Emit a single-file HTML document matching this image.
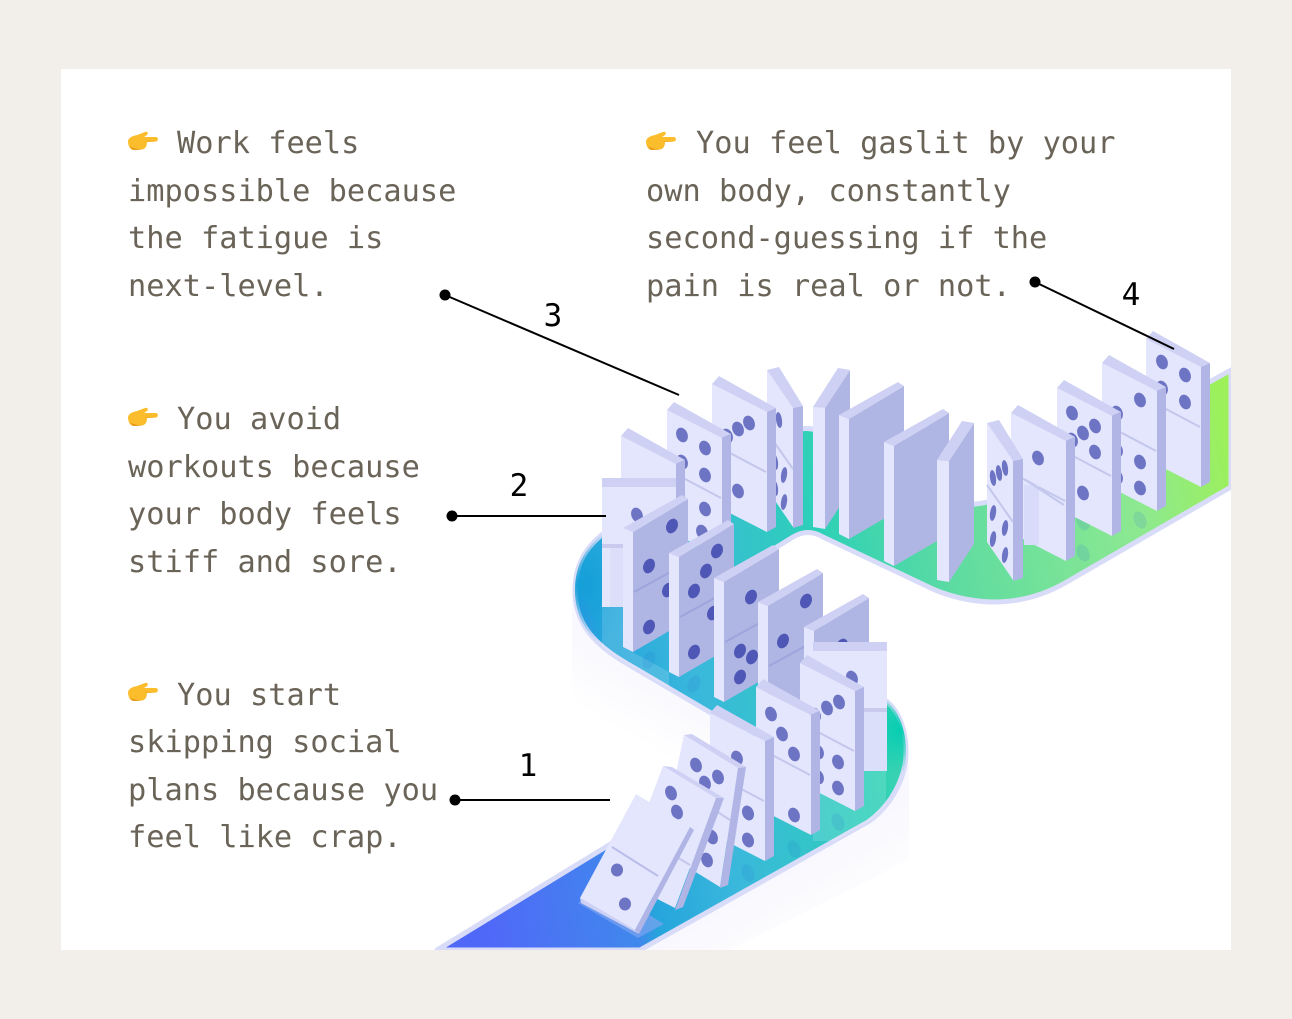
<!DOCTYPE html>
<html><head><meta charset="utf-8"><style>
html,body{margin:0;padding:0;background:#f2efea}
svg{display:block}
text{font-family:"DejaVu Sans Mono","Liberation Mono",monospace}
.t{font-size:30.3px;fill:#6a6358}
.n{font-size:31px;fill:#000;text-anchor:middle}
</style></head><body>
<svg width="1292" height="1019" viewBox="0 0 1292 1019" xmlns="http://www.w3.org/2000/svg">
<defs>
<clipPath id="card"><rect x="61" y="69" width="1170" height="881"/></clipPath>
<path id="trk" d="M437,950 L745,762 Q768,750 745,733 L626,663 C590,642 575,620 575,590 C575,560 590,540 620,522 L790,432 Q808,424 826,434 L925,490 C960,512 990,508 1030,482 L1231,370 L1231,487 L1065,583 C1030,603 985,610 935,590 L823,537 Q808,528 793,537 L700,595 L885,700 C905,715 908,745 905,765 C900,790 885,810 868,822 L640,950 Z"/>
<clipPath id="tc"><use href="#trk"/></clipPath>
<linearGradient id="tr" gradientUnits="userSpaceOnUse" x1="500" y1="1000" x2="1308" y2="838">
<stop offset="0" stop-color="#5068f8"/><stop offset=".18" stop-color="#4088ec"/><stop offset=".205" stop-color="#25a5dc"/><stop offset=".31" stop-color="#3ab8dc"/><stop offset=".49" stop-color="#2dd0b8"/><stop offset=".65" stop-color="#60dca0"/><stop offset=".88" stop-color="#8ee990"/><stop offset="1" stop-color="#9cf05a"/>
</linearGradient>
<linearGradient id="sh1" gradientUnits="userSpaceOnUse" x1="625" y1="650" x2="588" y2="714"><stop offset="0" stop-color="#f8f8fe"/><stop offset="1" stop-color="#fff"/></linearGradient>
<linearGradient id="sh2" gradientUnits="userSpaceOnUse" x1="860" y1="825" x2="900" y2="892"><stop offset="0" stop-color="#f8f8fe"/><stop offset="1" stop-color="#fff"/></linearGradient>
<radialGradient id="rg1"><stop offset="0" stop-color="#06cdb2"/><stop offset="1" stop-color="#06cdb2" stop-opacity="0"/></radialGradient>
<radialGradient id="rg2"><stop offset="0" stop-color="#14a0d8"/><stop offset="1" stop-color="#14a0d8" stop-opacity="0"/></radialGradient>
<g id="a"><polygon points="0,0 55,28 55,148 0,120" fill="#e3e6fd"/><polygon points="0,0 7,-8 64,24 55,28" fill="#ced1f3"/><polygon points="55,28 64,24 64,143 55,148" fill="#b0b5e5"/><line x1="1" y1="60" x2="54" y2="88" stroke="#c3c7ec" stroke-width="2"/></g>
<g id="e0"><polygon points="10,4 65,-29 65,92 10,124" fill="#b0b6e4"/><polygon points="0,0 10,4 10,124 0,119" fill="#e3e6fd"/><polygon points="0,0 59,-33 65,-29 10,4" fill="#ced1f3"/></g>
<g id="e"><use href="#e0"/><line x1="11" y1="64" x2="64" y2="35" stroke="#9ea4dc" stroke-width="2"/></g>
<g id="c"><polygon points="12,1 37,-37 37,84 12,122" fill="#b0b6e4"/><polygon points="0,0 12,1 12,122 0,120" fill="#e3e6fd"/><polygon points="0,0 25,-39 37,-37 12,1" fill="#ced1f3"/></g>
<g id="b"><polygon points="0,0 26,38 26,157 0,119" fill="#e3e6fd"/><polygon points="0,0 12,-3 36,36 26,38" fill="#ced1f3"/><polygon points="26,38 36,36 36,155 26,158" fill="#b0b5e5"/><line x1="0" y1="62" x2="26" y2="99" stroke="#c3c7ec" stroke-width="2"/></g>
<g id="d"><rect width="74" height="129" fill="#e3e6fd"/><rect width="74" height="9" fill="#ced1f3"/><rect x="8" y="69" width="66" height="60" fill="#dcdffa"/><rect y="66" width="74" height="4" fill="#c8cbee"/></g>
<ellipse id="pa" rx="5.6" ry="7.6" transform="rotate(-22)" fill="#6e74c4"/>
<ellipse id="pe" rx="5.6" ry="7.6" transform="rotate(24)" fill="#4f57b6"/>
<ellipse id="pb" rx="3" ry="8" transform="rotate(-8)" fill="#6e74c4"/>
<ellipse id="pc" rx="3" ry="8" transform="rotate(8)" fill="#6e74c4"/>
<g id="hand"><path d="M0,10 C1,6 5,5 9,4 L17,1 C19,0 21,2 19,4 L16,6 L28,6 C30.5,6 30.5,10.5 28,10.5 L19,11 C19,14 18,18 14,18.5 L6,19 C2,19 0,15 0,10 Z" fill="#fbbd2c"/><path d="M2,15 C5,18 11,18 14,18.5 L6,19 C4,19 3,17 2,15 Z M17,10.5 L28,10.5 L19,11 Z" fill="#e9981c"/></g>
</defs>
<rect width="1292" height="1019" fill="#f2efea"/>
<rect x="61" y="69" width="1170" height="881" fill="#fff"/>
<g clip-path="url(#card)">
<path d="M572,595 L572,700 L745,800 L745,720 L620,650 Z" fill="url(#sh1)"/>
<path d="M909,765 L909,860 L730,950 L640,950 L870,825 Z" fill="url(#sh2)"/>
<use href="#trk" fill="url(#tr)" stroke="#d9dcf8" stroke-width="5" stroke-linejoin="round"/>
<g clip-path="url(#tc)">
<circle cx="900" cy="730" r="44" fill="url(#rg1)"/>
<circle cx="580" cy="585" r="60" fill="url(#rg2)"/>
<rect x="813" y="771" width="73" height="70" fill="#fff" opacity=".14"/>
<polygon points="602,607 623,607 623,647 669,672 669,700 602,660" fill="#fff" opacity=".15"/>
</g>
<g fill="#2a6fd0" opacity=".14"><ellipse cx="1083" cy="522" rx="6" ry="9" transform="rotate(-25 1083 522)"/><ellipse cx="1140" cy="520" rx="6" ry="9" transform="rotate(-25 1140 520)"/><ellipse cx="1083" cy="553" rx="6" ry="9" transform="rotate(-25 1083 553)"/><ellipse cx="649" cy="660" rx="6" ry="9" transform="rotate(24 649 660)"/><ellipse cx="694" cy="684" rx="6" ry="9" transform="rotate(24 694 684)"/><ellipse cx="794" cy="849" rx="6" ry="9" transform="rotate(-22 794 849)"/><ellipse cx="838" cy="822" rx="6" ry="9" transform="rotate(-22 838 822)"/><ellipse cx="748" cy="873" rx="6" ry="9" transform="rotate(-22 748 873)"/></g>

<!-- right back row -->
<use href="#a" x="1146" y="339"/>
<use href="#pa" x="1162" y="362"/><use href="#pa" x="1185" y="375"/><use href="#pa" x="1162" y="388"/><use href="#pa" x="1185" y="402"/>
<use href="#a" x="1102" y="363"/>
<use href="#pa" x="1140" y="400"/><use href="#pa" x="1117" y="413"/><use href="#pa" x="1140" y="462"/><use href="#pa" x="1140" y="488"/><use href="#pa" x="1117" y="450"/><use href="#pa" x="1117" y="477"/>
<use href="#a" x="1057" y="388"/>
<use href="#pa" x="1072" y="413"/><use href="#pa" x="1095" y="426"/><use href="#pa" x="1083" y="433"/><use href="#pa" x="1072" y="440"/><use href="#pa" x="1095" y="452"/><use href="#pa" x="1083" y="493"/>
<use href="#a" x="1011" y="413"/>
<rect x="1024" y="485" width="15" height="60" fill="#d8dbf9"/>
<line x1="1024" y1="479" x2="1064" y2="505" stroke="#c3c7ec" stroke-width="2"/>
<use href="#pa" x="1038" y="458"/>
<use href="#b" x="987" y="423"/>
<use href="#pb" x="993" y="478"/><use href="#pb" x="999" y="473"/><use href="#pb" x="1005" y="468"/><use href="#pc" x="993" y="513"/><use href="#pc" x="1005" y="528"/><use href="#pc" x="993" y="539"/><use href="#pc" x="1005" y="555"/>
<use href="#c" x="813" y="407"/>
<use href="#e0" x="839" y="415"/>
<use href="#e0" x="884" y="442"/>
<use href="#c" x="937" y="460"/>
<use href="#b" x="767" y="370"/>
<use href="#pb" x="779" y="420"/><use href="#pb" x="775" y="462"/><use href="#pc" x="784" y="475"/><use href="#pb" x="775" y="488"/><use href="#pc" x="784" y="502"/>
<use href="#a" x="712" y="384"/>
<use href="#pa" x="749" y="423"/><use href="#pa" x="738" y="429"/><use href="#pa" x="727" y="436"/><use href="#pa" x="738" y="491"/>
<use href="#a" x="667" y="410"/>
<use href="#pa" x="682" y="435"/><use href="#pa" x="705" y="448"/><use href="#pa" x="682" y="462"/><use href="#pa" x="705" y="475"/><use href="#pa" x="705" y="509"/><use href="#pa" x="702" y="532"/>
<use href="#a" x="621" y="436"/>
<use href="#d" x="602" y="478"/>
<use href="#pa" x="637" y="515"/>
<!-- left front row -->
<use href="#e" x="623" y="528"/>
<use href="#pe" x="672" y="526"/><use href="#pe" x="649" y="566"/><use href="#pe" x="668" y="590"/><use href="#pe" x="649" y="627"/>
<use href="#e" x="669" y="553"/>
<use href="#pe" x="717" y="551"/><use href="#pe" x="706" y="571"/><use href="#pe" x="694" y="591"/><use href="#pe" x="713" y="613"/><use href="#pe" x="694" y="652"/>
<use href="#e" x="714" y="578"/>
<use href="#pe" x="751" y="597"/><use href="#pe" x="740" y="651"/><use href="#pe" x="752" y="657"/><use href="#pe" x="740" y="677"/>
<use href="#e" x="758" y="602"/>
<use href="#pe" x="806" y="601"/><use href="#pe" x="783" y="641"/>
<use href="#e" x="804" y="627"/>
<use href="#pe" x="842" y="646"/>
<use href="#d" x="813" y="642"/>
<use href="#pa" x="852" y="678"/>
<!-- front right row -->
<use href="#a" x="800" y="663"/>
<use href="#pa" x="839" y="702"/><use href="#pa" x="827" y="708"/><use href="#pa" x="815" y="715"/><use href="#pa" x="838" y="762"/><use href="#pa" x="838" y="788"/><use href="#pa" x="818" y="752"/><use href="#pa" x="818" y="777"/>
<use href="#a" x="756" y="687"/>
<use href="#pa" x="771" y="714"/><use href="#pa" x="782" y="734"/><use href="#pa" x="794" y="754"/><use href="#pa" x="794" y="815"/>
<use href="#a" x="710" y="713"/>
<use href="#pa" x="737" y="758"/><use href="#pa" x="748" y="813"/><use href="#pa" x="748" y="840"/>
<!-- falling -->
<polygon points="578,903 638,938 664,924 606,888" fill="#7aa4f0" opacity=".7"/>
<polygon points="684,735 738,768 720,887 660,850" fill="#e3e6fd"/><polygon points="684,735 692,734 746,767 738,768" fill="#ced1f3"/><polygon points="738,768 746,767 728,885 720,888" fill="#b0b5e5"/>
<line x1="679" y1="787" x2="730" y2="820" stroke="#c3c7ec" stroke-width="2"/>
<use href="#pa" x="696" y="765"/><use href="#pa" x="718" y="777"/><use href="#pa" x="705" y="783"/><use href="#pa" x="748" y="813"/><use href="#pa" x="748" y="840"/><use href="#pa" x="712" y="837"/><use href="#pa" x="707" y="860"/>
<polygon points="663,766 716,798 675,908 620,880" fill="#e3e6fd"/><polygon points="663,766 672,767 724,798 716,798" fill="#ced1f3"/><polygon points="716,798 724,798 683,907 675,910" fill="#b0b5e5"/>
<line x1="640" y1="835" x2="690" y2="865" stroke="#c3c7ec" stroke-width="2"/>
<use href="#pa" x="671" y="793"/><use href="#pa" x="677" y="812"/>
<polygon points="636,794 690,827 635,930 580,898" fill="#e3e6fd"/><polygon points="690,827 694,830 639,934 635,930" fill="#b0b5e5"/><polygon points="580,898 635,930 639,934 581,903" fill="#ced1f3"/>
<line x1="612" y1="847" x2="658" y2="876" stroke="#b9bdea" stroke-width="2"/>
<ellipse cx="617" cy="870" rx="6" ry="6.5" fill="#6e74c4"/><ellipse cx="625" cy="904" rx="6" ry="6.5" fill="#6e74c4"/>
</g>
<!-- connectors -->
<g stroke="#000" stroke-width="2"><line x1="455" y1="800" x2="610" y2="800"/><line x1="452" y1="516" x2="606" y2="516"/><line x1="445" y1="295" x2="679" y2="395"/><line x1="1035" y1="282" x2="1174" y2="349"/></g>
<g fill="#000"><circle cx="455" cy="800" r="5.5"/><circle cx="452" cy="516" r="5.5"/><circle cx="445" cy="295" r="5.5"/><circle cx="1035" cy="282" r="5.5"/></g>
<text class="n" x="528" y="776">1</text><text class="n" x="519" y="496">2</text><text class="n" x="553" y="326">3</text><text class="n" x="1131" y="305">4</text>
<!-- text -->
<use href="#hand" x="128" y="131"/><use href="#hand" x="646" y="131"/><use href="#hand" x="128" y="407"/><use href="#hand" x="128" y="682"/>
<g>
<text class="t" x="177" y="153">Work feels</text><text class="t" x="128" y="201">impossible because</text><text class="t" x="128" y="248">the fatigue is</text><text class="t" x="128" y="296">next-level.</text>
<text class="t" x="696" y="153">You feel gaslit by your</text><text class="t" x="646" y="201">own body, constantly</text><text class="t" x="646" y="248">second-guessing if the</text><text class="t" x="646" y="296">pain is real or not.</text>
<text class="t" x="177" y="429">You avoid</text><text class="t" x="128" y="477">workouts because</text><text class="t" x="128" y="524">your body feels</text><text class="t" x="128" y="572">stiff and sore.</text>
<text class="t" x="177" y="705">You start</text><text class="t" x="128" y="752">skipping social</text><text class="t" x="128" y="800">plans because you</text><text class="t" x="128" y="847">feel like crap.</text>
</g>
</svg>
</body></html>
